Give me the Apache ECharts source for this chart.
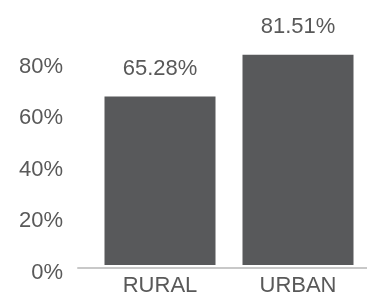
<!DOCTYPE html>
<html>
<head>
<meta charset="utf-8">
<script src="https://cdn.jsdelivr.net/npm/echarts@6/dist/echarts.min.js"></script>
<style>html,body{margin:0;padding:0;background:#fff;}#c{width:367px;height:297px;}</style>
</head>
<body>
<div id="c"></div>
<script>
const categories = ['RURAL', 'URBAN'];
const values = [65.28, 81.51];
const yTicks = [0, 20, 40, 60, 80];

const chart = echarts.init(document.getElementById('c'), null, {renderer: 'canvas'});
const font = 'Liberation Sans, Arial, sans-serif';
const textColor = '#595959';
chart.setOption({
  animation: false,
  grid: [
    {left: 91, right: -2, top: 7, bottom: 29},
    {left: 78, right: 0, top: 7, bottom: 29}
  ],
  xAxis: [
    {
      type: 'category', data: categories, gridIndex: 0,
      axisLine: {show: false}, axisTick: {show: false},
      axisLabel: {color: textColor, fontSize: 22, fontFamily: font, margin: 10}
    },
    {
      type: 'category', data: categories, gridIndex: 1,
      axisLine: {show: true, lineStyle: {color: '#C8C8C8', width: 2}},
      axisTick: {show: false}, axisLabel: {show: false}
    }
  ],
  yAxis: [
    {
      type: 'value', gridIndex: 0, min: 0, max: 100, interval: 20,
      splitLine: {show: false}, axisLine: {show: false}, axisTick: {show: false},
      axisLabel: {
        color: textColor, fontSize: 22, fontFamily: font, margin: 28,
        verticalAlign: 'top', lineHeight: 16,
        formatter: v => yTicks.includes(v) ? v + '%' : ''
      }
    },
    {
      type: 'value', gridIndex: 1, min: 0, max: 100, show: false
    }
  ],
  series: [{
    type: 'bar', data: values, xAxisIndex: 0, yAxisIndex: 0,
    barWidth: 111,
    itemStyle: {color: '#58595B'},
    label: {
      show: true, position: 'top', distance: 17,
      color: textColor, fontSize: 22, fontFamily: font,
      formatter: p => p.value.toFixed(2) + '%'
    }
  }]
});
</script>
</body>
</html>
